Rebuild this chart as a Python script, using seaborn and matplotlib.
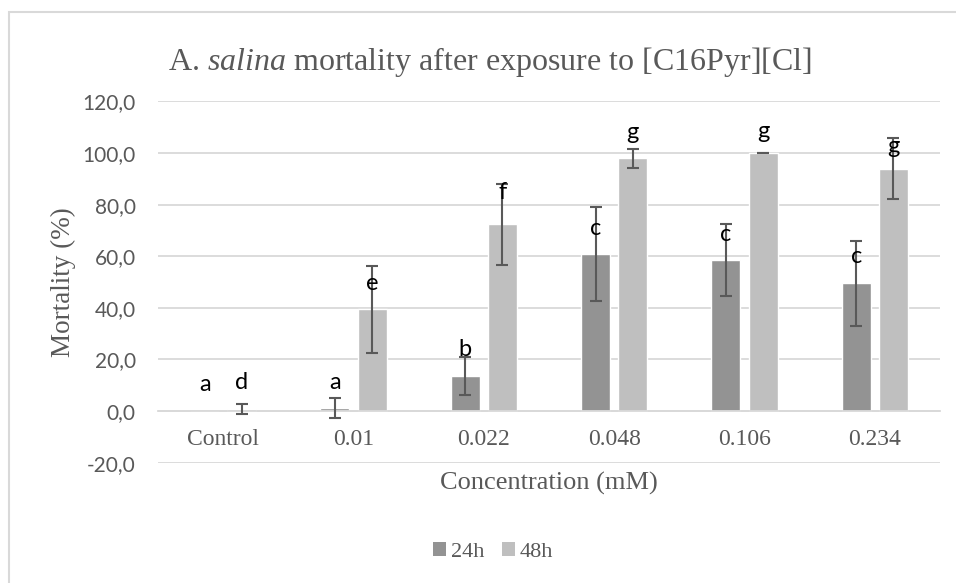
import matplotlib
matplotlib.use("Agg")
import matplotlib.pyplot as plt
import seaborn as sns
import pandas as pd
import numpy as np
from matplotlib.patches import Rectangle, Patch

categories = ["Control", "0.01", "0.022", "0.048", "0.106", "0.234"]
series = ["24h", "48h"]
mort_24h = [0.0, 1.2, 13.6, 60.9, 58.4, 49.5]
mort_48h = [0.8, 39.4, 72.3, 97.9, 100.0, 93.9]
err_24h = [np.nan, 3.9, 7.4, 18.1, 14.0, 16.5]
err_48h = [1.8, 16.8, 15.6, 3.6, 0.0, 11.8]
letters_24h = ["a", "a", "b", "c", "c", "c"]
letters_48h = ["d", "e", "f", "g", "g", "g"]
letter_y_24h = [10.1, 11.2, 24.0, 70.9, 68.6, 59.7]
letter_y_48h = [10.9, 49.6, 84.5, 107.8, 108.5, 102.7]
yticks = [-20, 0, 20, 40, 60, 80, 100, 120]
ytick_labels = ["-20,0", "0,0", "20,0", "40,0", "60,0", "80,0", "100,0", "120,0"]

c24, c48 = "#939393", "#bfbfbf"
grey_txt = "#595959"

df = pd.DataFrame({
    "Concentration": categories * 2,
    "Time": ["24h"] * 6 + ["48h"] * 6,
    "Mortality": mort_24h + mort_48h,
})

sns.set_theme(style="white")
plt.rcParams["mathtext.fontset"] = "custom"
plt.rcParams["mathtext.rm"] = "Liberation Serif"
plt.rcParams["mathtext.it"] = "Liberation Serif:italic"

fig = plt.figure(figsize=(9.56, 5.83), dpi=100)
ax = fig.add_axes([158 / 956, 1 - 462.6 / 583, (940 - 158) / 956, (462.6 - 101.4) / 583])

sns.barplot(data=df, x="Concentration", y="Mortality", hue="Time",
            order=categories, hue_order=series, palette=[c24, c48],
            width=0.57, gap=0.22, errorbar=None, legend=False, ax=ax,
            saturation=1)

errs = [err_24h, err_48h]
vals = [mort_24h, mort_48h]
labs = [letters_24h, letters_48h]
laby = [letter_y_24h, letter_y_48h]
bar_containers = list(ax.containers)
for ci, cont in enumerate(bar_containers):
    xs = [p.get_x() + p.get_width() / 2 for p in cont.patches]
    ax.errorbar(xs, vals[ci], yerr=errs[ci], fmt="none", ecolor="#595959",
                elinewidth=1.5, capsize=4.5, capthick=1.5, zorder=3)
    for x, t, y in zip(xs, labs[ci], laby[ci]):
        ax.text(x, y, t, ha="center", va="center", fontsize=17,
                family="Lato", color="black", zorder=4)

ax.set_ylim(-20, 120)
ax.set_xlim(-0.5, 5.5)
ax.set_yticks(yticks)
ax.set_yticklabels(ytick_labels, family="Lato", fontsize=15, color=grey_txt)
ax.yaxis.grid(True, color="#d9d9d9", linewidth=1.3)
ax.set_axisbelow(True)
for s in ["left", "right", "top"]:
    ax.spines[s].set_visible(False)
ax.spines["bottom"].set_position(("data", 0))
ax.spines["bottom"].set_color("#d9d9d9")
ax.spines["bottom"].set_linewidth(1.3)
ax.tick_params(axis="both", length=0)
ax.tick_params(axis="y", pad=16)
ax.tick_params(axis="x", pad=13)
ax.set_xticks(range(len(categories)))
ax.set_xticklabels(categories, family="Liberation Serif", fontsize=17, color=grey_txt)
ax.set_xlabel("")
ax.set_ylabel("Mortality (%)", family="Liberation Serif", fontsize=19.5, color=grey_txt, labelpad=5)

fig.text(549 / 956, 1 - 483 / 583, "Concentration (mM)", ha="center", va="center",
         family="Liberation Serif", fontsize=19, color=grey_txt)
fig.text(490 / 956, 1 - 62 / 583, r"A. $\mathit{salina}$ mortality after exposure to [C16Pyr][Cl]",
         ha="center", va="center", family="Liberation Serif", fontsize=23, color=grey_txt)

handles = [Patch(facecolor=c24, edgecolor="none"), Patch(facecolor=c48, edgecolor="none")]
leg = fig.legend(handles, series, loc="center", bbox_to_anchor=(493 / 956, 1 - 552 / 583),
                 ncol=2, frameon=False, handlelength=0.6, handleheight=0.6,
                 handletextpad=0.2, columnspacing=0.8,
                 prop={"family": "Liberation Serif", "size": 16})
for t in leg.get_texts():
    t.set_color(grey_txt)

fig.patches.append(Rectangle((9 / 956, -0.1), 1.2, 1.1 - 12 / 583, transform=fig.transFigure,
                             fill=False, edgecolor="#d9d9d9", linewidth=1.5, zorder=0))

fig.savefig("out.png", dpi=100)
